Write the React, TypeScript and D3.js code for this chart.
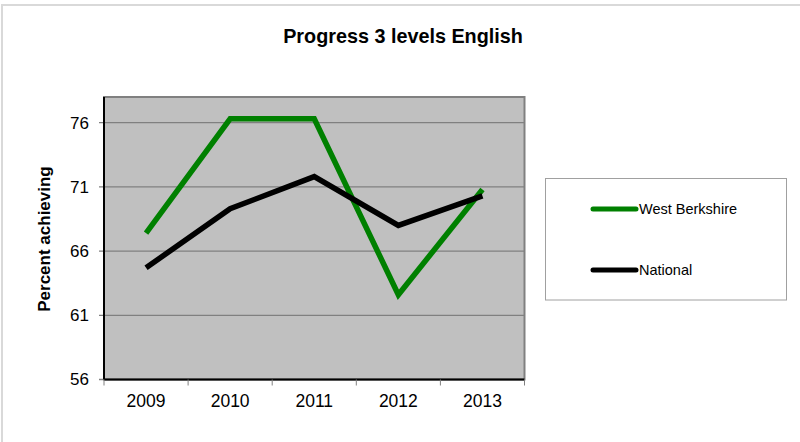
import React from "react";
import * as d3 from "d3";

const years = ["2009", "2010", "2011", "2012", "2013"];
const westBerkshire = [67.4, 76.3, 76.3, 62.6, 70.8];
const national = [64.7, 69.3, 71.8, 68.0, 70.3];
const yTicks = [56, 61, 66, 71, 76];
const seriesNames = ["West Berkshire", "National"];
const seriesColors = ["#008000", "#000000"];

const W = 800;
const H = 442;
const plot = { left: 104, right: 524.5, top: 97, bottom: 379.5 };

export default function App() {
  const x = d3.scaleBand<string>().domain(years).range([plot.left, plot.right]);
  const y = d3.scaleLinear().domain([56, 78]).range([plot.bottom, plot.top]);
  const line = d3
    .line<number>()
    .x((_, i) => (x(years[i]) as number) + x.bandwidth() / 2)
    .y((d) => y(d));
  const series = [westBerkshire, national];
  const font = "'Liberation Sans', Arial, sans-serif";

  return (
    <svg
      width={W}
      height={H}
      style={{ position: "absolute", left: 0, top: 0, background: "#fff" }}
      fontFamily={font}
    >
      <rect x={2} y={5} width={W + 10} height={H + 10} fill="#fff" stroke="#d9d9d9" strokeWidth={2} />
      <text x={403} y={43} textAnchor="middle" fontSize={19.8} fontWeight="bold" fill="#000">
        Progress 3 levels English
      </text>
      <rect
        x={plot.left}
        y={plot.top}
        width={plot.right - plot.left}
        height={plot.bottom - plot.top}
        fill="#c0c0c0"
        stroke="#808080"
        strokeWidth={2}
      />
      {yTicks.map((t) => (
        <g key={t}>
          <line x1={plot.left - 5} x2={plot.right} y1={y(t)} y2={y(t)} stroke="#808080" strokeWidth={1.3} />
          <text x={89} y={y(t)} dy="0.35em" textAnchor="end" fontSize={17} fill="#000">
            {t}
          </text>
        </g>
      ))}
      <line x1={plot.left} x2={plot.left} y1={plot.top} y2={plot.bottom} stroke="#000" strokeWidth={2} />
      <line x1={plot.left} x2={plot.right} y1={plot.bottom} y2={plot.bottom} stroke="#000" strokeWidth={2} />
      {years.concat(["end"]).map((yr, i) => {
        const xx = plot.left + i * x.step();
        return <line key={yr} x1={xx} x2={xx} y1={plot.bottom} y2={plot.bottom + 6} stroke="#808080" strokeWidth={1} />;
      })}
      {years.map((yr) => (
        <text
          key={yr}
          x={(x(yr) as number) + x.bandwidth() / 2}
          y={407}
          textAnchor="middle"
          fontSize={17.5}
          fill="#000"
        >
          {yr}
        </text>
      ))}
      <text
        transform="translate(50,239) rotate(-90)"
        textAnchor="middle"
        fontSize={17}
        fontWeight="bold"
        fill="#000"
      >
        Percent achieving
      </text>
      {series.map((s, i) => (
        <path
          key={i}
          d={line(s) as string}
          fill="none"
          stroke={seriesColors[i]}
          strokeWidth={5.5}
          strokeLinejoin="miter"
        />
      ))}
      <rect x={545.5} y={178.5} width={241} height={121.5} fill="#fff" stroke="#a0a0a0" strokeWidth={1} />
      {seriesNames.map((n, i) => {
        const ly = i === 0 ? 209 : 270;
        return (
          <g key={n}>
            <line x1={593} x2={636} y1={ly} y2={ly} stroke={seriesColors[i]} strokeWidth={5} strokeLinecap="round" />
            <text x={639} y={ly} dy="0.35em" fontSize={14.5} fill="#000">
              {n}
            </text>
          </g>
        );
      })}
    </svg>
  );
}
